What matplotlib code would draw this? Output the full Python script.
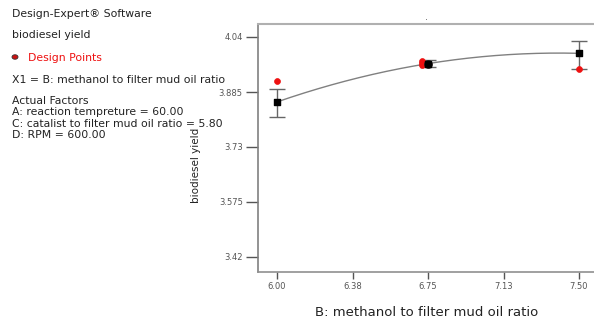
import numpy as np
import matplotlib
matplotlib.use("Agg")
import matplotlib.pyplot as plt

# data
x_levels = [6.00, 6.75, 7.50]
pred = [3.857, 3.965, 3.994]
ci_low = [3.815, 3.955, 3.950]
ci_high = [3.893, 3.975, 4.030]
design_x = [6.00, 6.72, 6.72, 6.72, 6.75, 7.50]
design_y = [3.916, 3.960, 3.966, 3.972, 3.965, 3.950]
xticks = [6.00, 6.375, 6.75, 7.125, 7.50]
xtick_labels = ["6.00", "6.38", "6.75", "7.13", "7.50"]
yticks = [3.42, 3.575, 3.73, 3.885, 4.04]
ytick_labels = ["3.42", "3.575", "3.73", "3.885", "4.04"]

W, H = 594, 328
fig = plt.figure(figsize=(W / 100, H / 100), dpi=100)
plt.rcParams['font.family'] = ['DejaVu Sans']

left, right, top, bottom = 258, 606, 24, 272
ax = fig.add_axes([left / W, 1 - bottom / H, (right - left) / W, (bottom - top) / H])

ppx = (579 - 277) / 1.5
xmin = 6.0 - (277 - left) / ppx
xmax = 6.0 + (right - 277) / ppx
ppy = (257 - 37) / (4.04 - 3.42)
ymax = 4.04 + (37 - top) / ppy
ymin = 3.42 - (bottom - 257) / ppy
ax.set_xlim(xmin, xmax)
ax.set_ylim(ymin, ymax)

# model curve (quadratic through predicted means)
coef = np.polyfit(x_levels, pred, 2)
xs = np.linspace(6.0, 7.5, 200)
ax.plot(xs, np.polyval(coef, xs), color='#808080', lw=1.0, zorder=2)

# error bars
yerr = [np.array(pred) - np.array(ci_low), np.array(ci_high) - np.array(pred)]
ax.errorbar(x_levels, pred, yerr=yerr, fmt='none', ecolor='#666666', elinewidth=1.0,
            capsize=6, capthick=1.0, zorder=3)

# design points
ax.scatter(design_x, design_y, s=18, color='#ee1111', edgecolors='#ee1111', linewidths=0.5, zorder=4)
ax.scatter(design_x[4:5], design_y[4:5], s=30, color='#dd1111', edgecolors='#222222', linewidths=0.8, zorder=4)
# predicted points
ax.scatter(x_levels, pred, s=24, marker='s', color='black', zorder=5)

ax.spines['right'].set_visible(False)
ax.spines['top'].set_color('#b0b0b0')
ax.spines['top'].set_linewidth(1.5)
ax.spines['left'].set_color('#808080')
ax.spines['left'].set_linewidth(1.2)
ax.spines['bottom'].set_color('#909090')
ax.spines['bottom'].set_linewidth(1.2)

ax.set_xticks(xticks)
ax.set_xticklabels(xtick_labels)
ax.set_yticks(yticks)
ax.set_yticklabels(ytick_labels)
ax.tick_params(axis='both', labelsize=6, colors='#555555', width=1.0, direction='out')
ax.tick_params(axis='x', length=5, pad=2)
ax.tick_params(axis='y', length=9, pad=2)

# y label
fig.text(196 / W, 1 - 165 / H, "biodiesel yield", rotation=90, ha='center', va='center',
         fontsize=7.5, color='#222222')
# x label
fig.text(427 / W, 1 - 312 / H, "B: methanol to filter mud oil ratio", ha='center', va='center',
         fontsize=9.5, color='#222222')

# side annotations
fs = 7.8
fig.text(12 / W, 1 - 14 / H, "Design-Expert® Software", fontsize=fs, va='center', color='#222222')
fig.text(12 / W, 1 - 35 / H, "biodiesel yield", fontsize=fs, va='center', color='#222222')
fig.patches.append(matplotlib.patches.Ellipse((15 / W, 1 - 57 / H), 6 / W, 4.5 / H,
                                              transform=fig.transFigure, facecolor='#cc1111',
                                              edgecolor='#333333', lw=0.6))
fig.text(28 / W, 1 - 58 / H, "Design Points", fontsize=fs, va='center', color='#ee1111')
fig.text(12 / W, 1 - 80 / H, "X1 = B: methanol to filter mud oil ratio", fontsize=fs, va='center', color='#222222')
fig.text(12 / W, 1 - 101 / H, "Actual Factors", fontsize=fs, va='center', color='#222222')
fig.text(12 / W, 1 - 112 / H, "A: reaction tempreture = 60.00", fontsize=fs, va='center', color='#222222')
fig.text(12 / W, 1 - 124 / H, "C: catalist to filter mud oil ratio = 5.80", fontsize=fs, va='center', color='#222222')
fig.text(12 / W, 1 - 135 / H, "D: RPM = 600.00", fontsize=fs, va='center', color='#222222')

# small dot above plot
fig.text(427 / W, 1 - 17 / H, ".", fontsize=7, ha='center', va='center', color='#666666')

fig.savefig("out.png", dpi=100)
